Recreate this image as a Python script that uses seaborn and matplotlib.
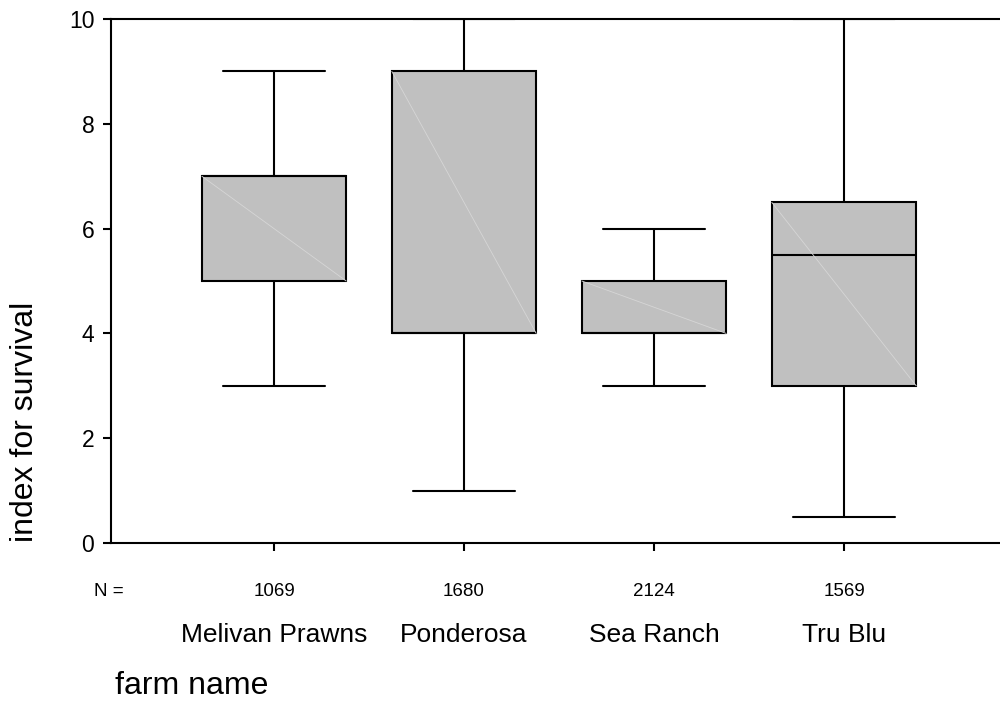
import numpy as np
import pandas as pd
import matplotlib
matplotlib.use("Agg")
import matplotlib.pyplot as plt
import matplotlib.transforms as mtransforms
import seaborn as sns

# ---- data ----
categories = ["Melivan Prawns", "Ponderosa", "Sea Ranch", "Tru Blu"]
counts = [1069, 1680, 2124, 1569]
whisker_low = [3.0, 1.0, 3.0, 0.5]
quartile_1 = [5.0, 4.0, 4.0, 3.0]
medians = [7.0, 4.0, 4.0, 5.5]
quartile_3 = [7.0, 9.0, 5.0, 6.5]
whisker_high = [9.0, 10.0, 6.0, 10.0]
y_ticks = [0, 2, 4, 6, 8, 10]

# five-number summaries as rows, so seaborn computes exactly these boxes
rows = []
for cat, lo, q1, md, q3, hi in zip(categories, whisker_low, quartile_1, medians, quartile_3, whisker_high):
    for v in (lo, q1, md, q3, hi):
        rows.append({"farm name": cat, "index for survival": v})
df = pd.DataFrame(rows)

sns.set_style("ticks")
plt.rcParams["font.family"] = ["Liberation Sans", "DejaVu Sans"]
plt.rcParams["text.color"] = "black"
plt.rcParams["xtick.color"] = "black"
plt.rcParams["ytick.color"] = "black"
plt.rcParams["axes.labelcolor"] = "black"

fig = plt.figure(figsize=(10, 7.06), dpi=100)
ax = fig.add_axes([0.111, 1 - 543 / 706, 1 - 0.111, (543 - 19) / 706])

box_w = 0.76
sns.boxplot(
    data=df, x="farm name", y="index for survival", order=categories,
    width=box_w, color="#c0c0c0", linecolor="black", linewidth=1.5,
    whis=np.inf, saturation=1, capwidths=0.54, ax=ax,
)

# faint diagonal artefact inside each box
for i, (q1, q3) in enumerate(zip(quartile_1, quartile_3)):
    ax.plot([i - box_w / 2, i + box_w / 2], [q3, q1], color="#d6d6d6", lw=0.6, zorder=3)

ax.set_ylim(0, 10)
ax.set_xlim(-0.858, 3.821)
ax.set_yticks(y_ticks)
ax.set_yticklabels([str(t) for t in y_ticks], fontsize=16.5, color="black")
ax.set_xticks(range(len(categories)))
ax.set_xticklabels([""] * len(categories))
ax.tick_params(axis="both", length=6, width=1.5, color="black", direction="out")
ax.tick_params(axis="y", pad=6)
ax.set_xlabel("")
ax.set_ylabel("")
for side in ("left", "top", "bottom"):
    ax.spines[side].set_visible(True)
    ax.spines[side].set_linewidth(1.5)
    ax.spines[side].set_color("black")
ax.spines["right"].set_visible(False)

trans = mtransforms.blended_transform_factory(ax.transData, fig.transFigure)
for i, (cat, n) in enumerate(zip(categories, counts)):
    ax.text(i, 1 - 592 / 706, str(n), transform=trans, ha="center", va="center",
            fontsize=13.5, color="black")
    ax.text(i, 1 - 635 / 706, cat, transform=trans, ha="center", va="center",
            fontsize=19, color="black")
fig.text(0.109, 1 - 592 / 706, "N =", ha="center", va="center", fontsize=13.5, color="black")
fig.text(0.115, 1 - 686 / 706, "farm name", ha="left", va="center", fontsize=23, color="black")
fig.text(0.025, 1 - 422 / 706, "index for survival", ha="center", va="center",
         rotation=90, fontsize=23, color="black")

fig.savefig("out.png", dpi=100)
